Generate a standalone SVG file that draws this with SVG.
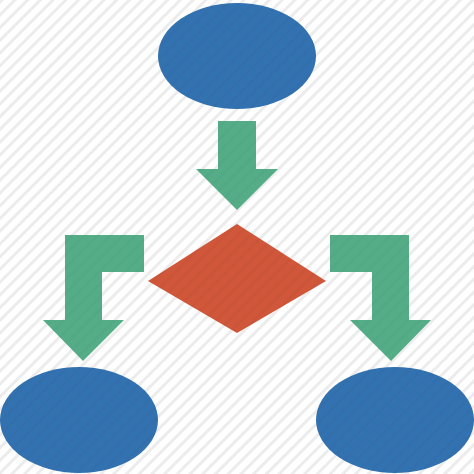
<svg xmlns="http://www.w3.org/2000/svg" width="474" height="474" viewBox="0 0 474 474">
  <defs>
    <pattern id="stripes" width="9" height="9" patternUnits="userSpaceOnUse" patternTransform="rotate(45)">
      <rect x="0" y="0" width="3" height="9" fill="#000" fill-opacity="0.05"/>
    </pattern>
    <pattern id="stripes-faint" width="9" height="9" patternUnits="userSpaceOnUse" patternTransform="rotate(45)">
      <rect x="0" y="0" width="3" height="9" fill="#000" fill-opacity="0.025"/>
    </pattern>
    <style>
      .blue { fill: #3372b0; }
      .green { fill: #55ad88; }
      .red { fill: #d0573a; }
    </style>
  </defs>
  <rect width="474" height="474" fill="#ffffff"/>
  <rect width="474" height="474" fill="url(#stripes)"/>
  <g id="top-node"><ellipse class="blue" cx="237" cy="56" rx="79" ry="53"/></g>
  <g id="decision"><polygon class="red" points="237,224 326,281 237,333 148,281"/></g>
  <g id="left-node"><ellipse class="blue" cx="79" cy="420" rx="79" ry="53"/></g>
  <g id="right-node"><ellipse class="blue" cx="395" cy="420" rx="79" ry="53"/></g>
  <g id="connectors">
    <polygon class="green" points="218,121 256,121 256,169 278,169 237,210 196,169 218,169"/>
    <polygon class="green" points="144,235 144,272 102,272 102,320 124,320 83,361 43,320 65,320 65,235"/>
    <polygon class="green" points="330,235 409,235 409,320 431,320 391,361 350,320 372,320 372,272 330,272"/>
  </g>
  <rect width="474" height="474" fill="url(#stripes-faint)"/>
</svg>
